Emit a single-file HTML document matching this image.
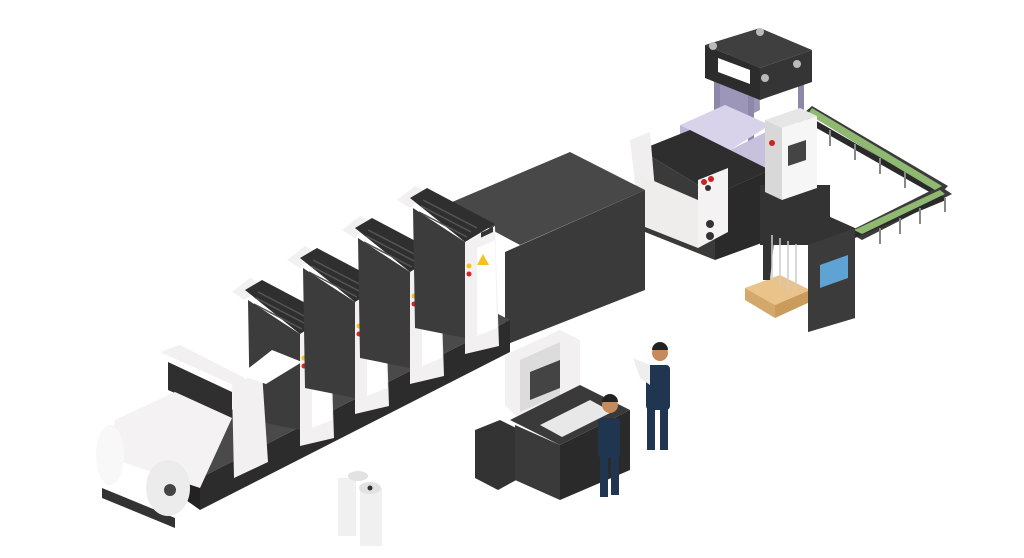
<!DOCTYPE html>
<html><head><meta charset="utf-8"><style>
html,body{margin:0;padding:0;background:#fff;}
svg{display:block;}
</style></head><body>
<svg width="1024" height="558" viewBox="0 0 1024 558" xmlns="http://www.w3.org/2000/svg">
<!-- conveyor -->
<g>
<polygon points="805,112 812,106 948,186 940,194" fill="#3b3b3b"/>
<polygon points="808,116 940,192 940,198 806,122" fill="#2a2a2a"/>
<polygon points="940,186 952,194 862,240 848,232" fill="#3b3b3b"/>
<polygon points="848,232 940,194 946,200 850,240" fill="#2a2a2a"/>
<polygon points="812,108 942,186 935,190 808,114" fill="#8fb870"/>
<polygon points="940,190 945,194 862,234 854,230" fill="#8fb870"/>
<g stroke="#888" stroke-width="2">
<line x1="830" y1="130" x2="830" y2="146"/><line x1="855" y1="144" x2="855" y2="160"/><line x1="880" y1="158" x2="880" y2="174"/><line x1="905" y1="172" x2="905" y2="188"/>
<line x1="920" y1="208" x2="920" y2="224"/><line x1="900" y1="218" x2="900" y2="234"/><line x1="880" y1="228" x2="880" y2="244"/><line x1="945" y1="198" x2="945" y2="212"/>
</g>
</g>
<!-- press top -->
<polygon points="718,62 758,36 760,110 720,130" fill="#9c97b8"/>
<rect x="714" y="70" width="6" height="70" fill="#8d88aa"/>
<rect x="748" y="80" width="6" height="70" fill="#8d88aa"/>
<rect x="798" y="66" width="6" height="70" fill="#8d88aa"/>
<polygon points="705,45 760,28 812,50 760,68" fill="#3f3f3f"/>
<polygon points="705,45 760,68 760,100 705,78" fill="#2c2c2c"/>
<polygon points="760,68 812,50 812,82 760,100" fill="#353535"/>
<polygon points="718,58 750,70 750,84 718,72" fill="#fff"/>
<circle cx="713" cy="46" r="4" fill="#bbb"/><circle cx="760" cy="32" r="4" fill="#bbb"/><circle cx="797" cy="64" r="4" fill="#bbb"/><circle cx="765" cy="78" r="4" fill="#bbb"/>
<!-- purple platform -->
<polygon points="680,125 725,105 770,125 730,150" fill="#d8d3ea"/>
<polygon points="680,125 730,150 730,165 680,140" fill="#bdb6d6"/>
<polygon points="690,135 730,150 770,130 770,185 735,205 690,180" fill="#c7c1de"/>
<!-- right block -->
<polygon points="640,150 690,130 770,170 715,195" fill="#2e2e2e"/>
<polygon points="640,150 715,195 715,260 640,230" fill="#3a3a3a"/>
<polygon points="715,195 770,170 770,240 715,260" fill="#2a2a2a"/>
<polygon points="630,140 650,132 655,190 637,200" fill="#f0eeee"/>
<polygon points="640,175 698,200 698,248 640,225" fill="#efecec"/>
<polygon points="698,180 728,168 728,232 698,248" fill="#f4f2f2"/>
<circle cx="704" cy="182" r="3" fill="#c22"/><circle cx="711" cy="179" r="3" fill="#c22"/><circle cx="708" cy="188" r="3" fill="#333"/>
<circle cx="710" cy="224" r="4" fill="#333"/><circle cx="710" cy="236" r="4" fill="#333"/>
<rect x="760" y="185" width="70" height="60" fill="#333"/>
<!-- control panel -->
<polygon points="765,120 800,108 817,116 782,128" fill="#e6e6e6"/>
<polygon points="765,120 782,128 782,200 765,192" fill="#d8d8d8"/>
<polygon points="782,128 817,116 817,188 782,200" fill="#f6f6f6"/>
<polygon points="788,146 806,140 806,160 788,166" fill="#444"/>
<circle cx="772" cy="143" r="3" fill="#c22"/>
<!-- gate + pallet -->
<polygon points="745,288 780,275 810,290 775,305" fill="#e9c38a"/>
<polygon points="745,288 775,305 775,318 745,300" fill="#d3a86a"/>
<polygon points="775,305 810,290 810,302 775,318" fill="#c99c5d"/>
<polygon points="763,228 810,208 855,228 855,318 808,332 808,245 775,232 770,280 763,280" fill="#333"/>
<polygon points="808,245 855,228 855,318 808,332" fill="#3b3b3b"/>
<polygon points="820,265 848,255 848,278 820,288" fill="#5fa3d4"/>
<g stroke="#ccc" stroke-width="1.5"><line x1="772" y1="235" x2="772" y2="280"/><line x1="780" y1="238" x2="780" y2="285"/><line x1="788" y1="241" x2="788" y2="290"/><line x1="796" y1="244" x2="796" y2="290"/></g>
<!-- drier box -->
<polygon points="445,205 570,152 645,190 520,245" fill="#484848"/>
<polygon points="505,252 645,190 645,290 505,345" fill="#3a3a3a"/>
<!-- base -->
<polygon points="155,445 470,300 510,320 200,478" fill="#4a4a4a"/>
<polygon points="200,478 510,320 510,352 200,510" fill="#2c2c2c"/>
<polygon points="155,445 200,478 200,510 155,478" fill="#222"/>
<polygon points="102,488 175,518 175,528 102,498" fill="#333"/>
<!-- units -->
<g id="u">
<polygon points="232,292 250,278 262,284 245,300" fill="#f2f0f0"/>
<polygon points="245,290 262,280 330,316 300,334" fill="#2f2f2f"/>
<g stroke="#555" stroke-width="1.5"><line x1="258" y1="292" x2="312" y2="320"/><line x1="256" y1="298" x2="306" y2="324"/><line x1="254" y1="304" x2="302" y2="329"/><line x1="252" y1="310" x2="300" y2="335"/></g>
<polygon points="248,300 300,334 300,430 250,420" fill="#3c3c3c"/>
<polygon points="300,335 330,318 334,438 300,446" fill="#f2f0f0"/>
<polygon points="312,340 330,332 332,420 312,428" fill="#fff"/>
<rect x="316" y="324" width="12" height="5" fill="#333" transform="skewY(-25) translate(0,148)"/>
<polygon points="312,357 318,346 324,357" fill="#f3c21d"/>
<circle cx="304" cy="358" r="2.5" fill="#f3c21d"/><circle cx="304" cy="366" r="2.5" fill="#d22"/>
</g>
<use href="#u" transform="translate(55,-32)"/>
<use href="#u" transform="translate(110,-62)"/>
<use href="#u" transform="translate(165,-92)"/>
<!-- front feeder -->
<polygon points="160,352 180,345 245,378 240,388" fill="#f2f0f0"/>
<polygon points="168,362 232,392 232,418 168,390" fill="#2f2f2f"/>
<polygon points="232,385 262,372 268,462 234,478" fill="#f2f0f0"/>
<polygon points="240,375 272,350 302,362 266,384" fill="#fff"/>
<!-- roll -->
<polygon points="115,420 175,392 232,418 200,488 110,458" fill="#f4f2f2"/>
<ellipse cx="110" cy="455" rx="14" ry="30" fill="#f8f8f8"/>
<ellipse cx="168" cy="488" rx="22" ry="28" fill="#ececec"/>
<circle cx="170" cy="490" r="6" fill="#444"/>
<!-- small rolls -->
<rect x="338" y="478" width="18" height="58" fill="#f1f0f0"/>
<rect x="360" y="488" width="22" height="58" fill="#f1f0f0"/>
<ellipse cx="358" cy="476" rx="10" ry="5" fill="#e2e2e2"/>
<ellipse cx="370" cy="488" rx="11" ry="6" fill="#e2e2e2"/>
<circle cx="370" cy="488" r="2.5" fill="#333"/>
<!-- cutter -->
<polygon points="475,430 500,420 520,430 520,478 498,490 475,478" fill="#333"/>
<polygon points="505,355 560,330 580,340 580,400 520,420 505,405" fill="#f2f0f0"/>
<polygon points="520,360 560,342 560,395 520,412" fill="#dcdcdc"/>
<polygon points="530,372 560,360 560,388 530,400" fill="#444"/>
<polygon points="510,420 580,385 630,410 560,445" fill="#3a3a3a"/>
<polygon points="540,425 590,400 612,412 562,437" fill="#e8e8e8"/>
<polygon points="515,425 560,445 560,500 515,480" fill="#3a3a3a"/>
<polygon points="560,445 630,410 630,470 560,500" fill="#2a2a2a"/>
<!-- people -->
<rect x="598" y="418" width="22" height="40" rx="4" fill="#1f3550"/>
<rect x="600" y="455" width="8" height="42" fill="#1f3550"/><rect x="611" y="455" width="8" height="40" fill="#1f3550"/>
<circle cx="610" cy="405" r="8" fill="#c78a5a"/><path d="M602,402 a8,8 0 0 1 16,0z" fill="#222"/>
<rect x="646" y="365" width="24" height="45" rx="4" fill="#1f3550"/>
<rect x="647" y="405" width="8" height="45" fill="#1f3550"/><rect x="660" y="405" width="8" height="45" fill="#1f3550"/>
<circle cx="660" cy="353" r="8" fill="#c78a5a"/><path d="M652,350 a8,8 0 0 1 16,0z" fill="#222"/>
<polygon points="633,358 650,365 650,385 640,378" fill="#eee"/>
</svg>
</body></html>
